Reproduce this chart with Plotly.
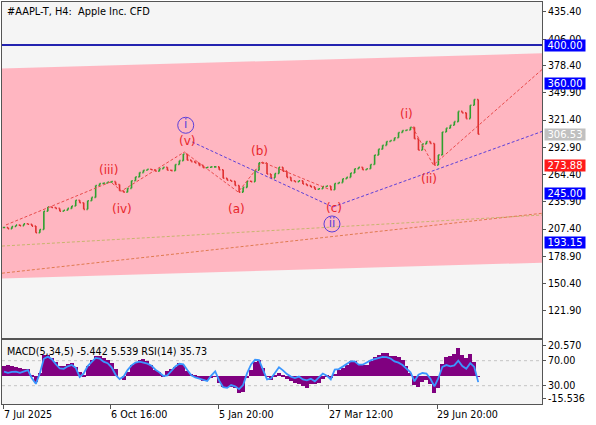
import plotly.graph_objects as go

closes = [209.0, 207.8, 210.0, 211.5, 211.0, 213.0, 212.5, 210.5, 203.5, 207.0,
          226.0, 230.5, 230.0, 229.0, 226.0, 227.0, 229.0, 231.5, 237.5, 235.0,
          228.0, 237.0, 240.5, 253.0, 255.0, 255.5, 256.5, 257.0, 254.0, 247.5,
          246.0, 250.0, 258.0, 262.0, 266.5, 269.0, 270.0, 269.5, 268.0, 270.5,
          272.0, 269.0, 268.5, 275.0, 279.0, 286.0, 279.5, 278.0, 276.5, 274.0,
          271.5, 272.0, 272.5, 272.5, 269.5, 260.5, 258.5, 257.5, 253.0, 246.0,
          251.0, 257.5, 257.0, 269.0, 276.7, 276.5, 265.0, 261.0, 265.5, 272.0,
          268.0, 261.5, 258.0, 257.0, 258.0, 254.5, 253.0, 251.5, 249.0, 249.5,
          252.0, 252.5, 248.5, 255.0, 256.0, 260.0, 261.5, 266.0, 270.5, 272.0,
          269.5, 270.5, 275.0, 284.8, 291.0, 295.0, 299.0, 300.0, 303.0, 308.5,
          310.5, 311.0, 314.0, 302.0, 290.0, 296.5, 299.0, 297.0, 274.3, 285.0,
          309.0, 313.0, 316.0, 319.8, 330.5, 329.0, 323.0, 337.0, 343.0, 306.53]

macd_hist = [6.5, 7.4, 6.6, 6.0, 5.2, 5.1, 5.0, 0.5, -3.8, 2.0,
             14.5, 14.2, 12.5, 9.6, 6.8, 7.0, 8.4, 9.2, 6.2, 3.0,
             0.5, 6.5, 11.0, 13.3, 13.7, 12.0, 11.0, 9.0, 5.0, 0.0,
             -2.4, 3.0, 7.5, 9.2, 11.0, 11.8, 10.2, 7.2, 4.3, 2.6,
             0.8, 3.2, 4.6, 6.2, 8.8, 7.5, 3.6, 1.6, 0.7, -2.0,
             -3.4, -3.0, -1.4, -0.4, -5.0, -7.3, -7.7, -7.3, -8.2, -11.5,
             -11.0, -1.6, 4.0, 9.5, 11.0, 5.6, -0.6, -2.4, 1.0, 2.4,
             1.0, -1.8, -3.5, -4.5, -5.4, -6.5, -8.0, -5.3, -5.6, -4.5,
             -1.8, 0.5, -1.3, 1.4, 4.0, 5.7, 7.6, 10.2, 10.0, 8.5,
             7.4, 7.6, 10.2, 12.9, 14.5, 15.6, 16.0, 13.4, 13.6, 13.0,
             10.8, 7.0, 1.8, -6.0, -7.5, -4.1, -3.0, -5.5, -11.5, -8.0,
             8.3, 12.9, 13.4, 15.0, 19.0, 14.5, 12.0, 14.7, 9.5, -0.4]

rsi_vals = [52.5, 50.5, 52.0, 52.5, 50.5, 53.0, 55.0, 42.0, 33.0, 50.0,
            73.0, 76.5, 72.5, 64.5, 57.5, 57.0, 61.0, 63.2, 58.5, 44.0,
            49.5, 61.5, 68.0, 74.5, 73.5, 68.5, 66.0, 59.5, 47.5, 40.5,
            44.5, 55.0, 62.5, 67.0, 68.5, 67.3, 65.3, 62.0, 55.6, 51.3,
            45.5, 46.5, 54.5, 60.9, 65.0, 64.0, 55.0, 46.5, 43.2, 41.0,
            39.0, 37.5, 46.0, 52.9, 38.0, 27.5, 26.5, 31.0, 29.0, 24.5,
            31.0, 50.0, 64.0, 71.5, 71.0, 54.5, 40.0, 41.5, 51.0, 59.5,
            54.5, 48.5, 44.5, 42.3, 44.5, 40.0, 38.5, 41.0, 36.9, 43.5,
            49.5, 46.0, 40.0, 55.6, 56.5, 60.5, 65.0, 69.0, 69.0, 63.6,
            63.6, 67.5, 70.5, 72.5, 74.5, 76.2, 75.8, 73.5, 68.9, 66.8,
            63.0, 57.5, 51.5, 37.0, 47.5, 50.3, 49.5, 41.0, 29.0, 42.0,
            60.0, 63.0, 61.0, 62.5, 70.0, 61.5, 57.0, 66.0, 60.0, 35.73]

bars = list(range(len(closes)))

price_ticks = [435.40, 406.00, 378.40, 349.90, 321.40, 292.90,
               264.40, 235.90, 207.40, 178.90, 150.40, 121.90]
date_ticks = [0, 26.75, 53.9, 81.5, 108.75]
date_labels = ["7 Jul 2025", "6 Oct 16:00", "5 Jan 20:00", "27 Mar 12:00", "29 Jun 20:00"]

blue_levels = [400.00, 360.00, 245.00, 193.15]
red_level = 273.88
last_price = 306.53

# regression channel edges (left, right)
channel_x = [-0.5, 135]
channel_upper = [375.4, 391.3]
channel_lower = [155.7, 172.2]
olive_trend = [189.6, 222.1]
orange_trend = [161.2, 223.9]

# elliott wave paths
wave_red_x = [0.5, 26.75, 29.5, 45.25, 58.75, 64.75, 82]
wave_red_y = [211.7, 256.7, 247.2, 288.0, 246.2, 277.6, 248.3]
wave_red2_x = [102.5, 107.75, 135]
wave_red2_y = [314.2, 274.4, 374.3]
wave_blue_x = [47.25, 82.5, 135]
wave_blue_y = [298.5, 230.5, 309.5]

wave_labels = ["(iii)", "(iv)", "(v)", "(a)", "(b)", "(c)", "(i)", "(ii)"]
wave_label_x = [26.3, 29.5, 45.9, 58.25, 64, 82.75, 101, 106.75]
wave_label_y = [269.5, 228.4, 299.6, 228.4, 289.6, 229.5, 327.8, 259.8]
circle_labels = ["i", "ii"]
circle_x = [45.6, 82.3]
circle_y = [316.0, 212.7]

FONT = "DejaVu Sans"
RED = "#e8262b"
VIOLET = "#5b3fd9"

opens = [closes[0]] + closes[:-1]
highs = [max(o, c) for o, c in zip(opens, closes)]
lows = [min(o, c) for o, c in zip(opens, closes)]

fig = go.Figure()

# trend lines under the candles
fig.add_trace(go.Scatter(x=channel_x, y=olive_trend, mode="lines",
                         line=dict(color="#c8b46e", width=1, dash="3px,2px")))
fig.add_trace(go.Scatter(x=channel_x, y=orange_trend, mode="lines",
                         line=dict(color="#e07a50", width=1, dash="3px,2px")))
fig.add_trace(go.Scatter(x=wave_red_x, y=wave_red_y, mode="lines",
                         line=dict(color="#e84a4a", width=1, dash="3px,2px")))
fig.add_trace(go.Scatter(x=wave_red2_x, y=wave_red2_y, mode="lines",
                         line=dict(color="#e84a4a", width=1, dash="3px,2px")))
fig.add_trace(go.Scatter(x=wave_blue_x, y=wave_blue_y, mode="lines",
                         line=dict(color=VIOLET, width=1, dash="3px,2px")))

# thin OHLC bars look closer to the tiny H4 candles of the terminal
fig.add_trace(go.Ohlc(
    x=bars, open=opens, high=highs, low=lows, close=closes, tickwidth=0.3,
    increasing=dict(line=dict(color="#2ea02e", width=1.6)),
    decreasing=dict(line=dict(color="#e03030", width=1.6)),
    hoverinfo="skip"))

fig.add_trace(go.Scatter(
    x=circle_x, y=circle_y, mode="markers+text", text=circle_labels,
    textposition="middle center",
    textfont=dict(family=FONT, size=12, color=VIOLET),
    marker=dict(symbol="circle-open", size=16, color=VIOLET, line=dict(width=1))))

# MACD histogram + RSI
fig.add_trace(go.Bar(x=bars, y=macd_hist, xaxis="x2", yaxis="y2", width=1,
                     marker=dict(color="#800080", line=dict(width=0))))
fig.add_trace(go.Scatter(x=bars, y=rsi_vals, xaxis="x2", yaxis="y3", mode="lines",
                         line=dict(color="#3a96ff", width=1.8)))

# channel and horizontal levels
shapes = [dict(type="path", xref="x", yref="y", layer="below", line=dict(width=0),
               fillcolor="#ffb6c1",
               path=f"M {channel_x[0]},{channel_upper[0]} L {channel_x[1]},{channel_upper[1]} "
                    f"L {channel_x[1]},{channel_lower[1]} L {channel_x[0]},{channel_lower[0]} Z")]
shapes.append(dict(type="line", xref="x domain", yref="y", x0=0, x1=1, y0=last_price,
                   y1=last_price, layer="below", line=dict(color="#c9a0ff", width=1)))
shapes.append(dict(type="line", xref="x domain", yref="y", x0=0, x1=1, y0=red_level,
                   y1=red_level, layer="below", line=dict(color="#e83030", width=1.5)))
for lvl in blue_levels:
    shapes.append(dict(type="line", xref="x domain", yref="y", x0=0, x1=1, y0=lvl, y1=lvl,
                       layer="below", line=dict(color="#2323b0", width=2)))
for lvl in [70, 30]:
    shapes.append(dict(type="line", xref="x2 domain", yref="y3", x0=0, x1=1, y0=lvl, y1=lvl,
                       layer="below", line=dict(color="#c4c4c4", width=1, dash="3px,3px")))

annotations = []
for txt, x, y in zip(wave_labels, wave_label_x, wave_label_y):
    annotations.append(dict(x=x, y=y, xref="x", yref="y", text=txt, showarrow=False,
                            font=dict(family=FONT, size=12, color=RED)))

# price tags on the right scale
tags = [(v, "#0000ff") for v in blue_levels] + [(red_level, "#ff1a1a"), (last_price, "#c0c0c0")]
for val, col in tags:
    annotations.append(dict(x=1, xref="paper", xanchor="left", xshift=2, y=val, yref="y",
                            text=f"{val:.2f}", showarrow=False, bgcolor=col, width=40,
                            height=11, borderpad=0,
                            font=dict(family=FONT, size=10, color="white")))

for pos, lab in zip(date_ticks, date_labels):
    annotations.append(dict(x=pos, xref="x2", xanchor="left", xshift=-2, y=0, yref="paper",
                            yanchor="top", yshift=-3, text=lab, showarrow=False,
                            font=dict(family=FONT, size=9.6, color="black")))

annotations.append(dict(x=0, xref="paper", xanchor="left", xshift=3, y=1, yref="paper",
                        yanchor="top", yshift=-2, text="#AAPL-T, H4:  Apple Inc. CFD",
                        showarrow=False, font=dict(family=FONT, size=9.8, color="black")))
annotations.append(dict(x=0, xref="paper", xanchor="left", xshift=3, y=1, yref="y2 domain",
                        yanchor="top", yshift=-4,
                        text="MACD(5,34,5) -5.442 5.539 RSI(14) 35.73",
                        showarrow=False, font=dict(family=FONT, size=9.6, color="black")))

axis_common = dict(showgrid=False, zeroline=False, showline=True, mirror=True,
                   linecolor="#555555", linewidth=1, fixedrange=True)
ytick_font = dict(family=FONT, size=9.6, color="black")

fig.update_layout(
    width=596, height=425,
    margin=dict(l=2, r=54, t=2, b=21),
    paper_bgcolor="white", plot_bgcolor="#f5f5f5",
    showlegend=False, bargap=0,
    font=dict(family=FONT, size=10, color="black"),
    shapes=shapes, annotations=annotations,
    xaxis=dict(domain=[0, 1], range=[-0.5, 135], anchor="y", showticklabels=False,
               rangeslider=dict(visible=False), **axis_common),
    yaxis=dict(domain=[0.1642, 1], range=[93.4, 445], anchor="x", side="right",
               tickvals=price_ticks, ticktext=[f"{v:.2f}" for v in price_ticks],
               ticks="outside", ticklen=3, tickcolor="#555555", tickfont=ytick_font,
               **axis_common),
    xaxis2=dict(domain=[0, 1], range=[-0.5, 135], anchor="y2", tickvals=date_ticks,
                ticks="outside", ticklen=4, tickcolor="#555555", showticklabels=False,
                **axis_common),
    yaxis2=dict(domain=[0, 0.1592], range=[-19.0, 24.5], anchor="x2", side="right",
                tickvals=[20.57, -15.536], ticktext=["20.570", "-15.536"],
                ticks="outside", ticklen=3, tickcolor="#555555", tickfont=ytick_font,
                **axis_common),
    yaxis3=dict(overlaying="y2", anchor="x2", side="right", range=[0.7, 103.1],
                tickvals=[70, 30], ticktext=["70.00", "30.00"], ticks="outside", ticklen=3,
                tickcolor="#555555", tickfont=ytick_font, showgrid=False, zeroline=False,
                fixedrange=True),
)

# drop the default page margin so the figure sits at the window's top-left corner
fig.write_html("out.html", config={"displayModeBar": False},
               post_script="document.body.style.margin = '0';")
